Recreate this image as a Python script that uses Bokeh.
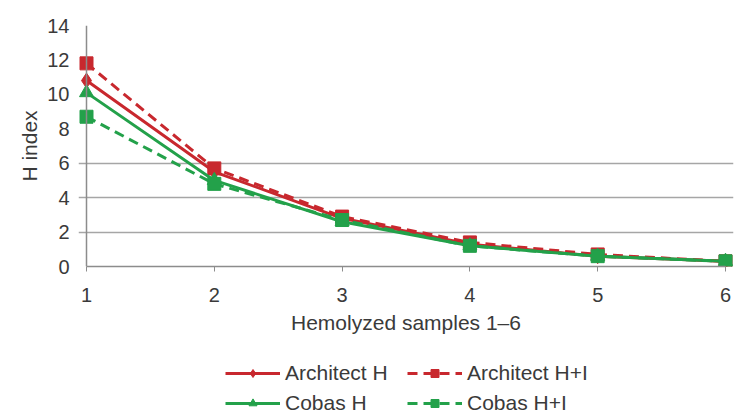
from bokeh.plotting import figure
from bokeh.models import Range1d, SingleIntervalTicker, Legend, LegendItem, Span
from bokeh.layouts import column
from bokeh.embed import file_html
from bokeh.resources import INLINE

samples = [1, 2, 3, 4, 5, 6]
architect_h = [10.8, 5.5, 2.8, 1.3, 0.6, 0.3]
architect_hi = [11.8, 5.7, 2.9, 1.4, 0.7, 0.3]
cobas_h = [10.1, 5.0, 2.6, 1.2, 0.6, 0.3]
cobas_hi = [8.7, 4.8, 2.7, 1.2, 0.6, 0.3]

RED = "#c8282e"
GREEN = "#23a14a"
FONT = "Liberation Sans"
TXT = "#3a3a3a"
AXIS = "#8c8c8c"

# ---------------- main chart ----------------
p = figure(width=738, height=345, output_backend="svg", toolbar_location=None,
           x_range=Range1d(1 - 8 / 127.8, 6 + 8 / 127.8), y_range=Range1d(0, 14),
           min_border_left=78, min_border_right=5, min_border_top=25, min_border_bottom=79)
p.outline_line_color = None
p.background_fill_color = "white"
p.border_fill_color = "white"

p.xgrid.grid_line_color = None
p.ygrid.grid_line_color = "#a6a6a6"
p.ygrid.grid_line_width = 1.5
p.ygrid.bounds = (1, 6)

p.yaxis.ticker = SingleIntervalTicker(interval=2)
p.xaxis.ticker = SingleIntervalTicker(interval=1)
for ax in (p.xaxis[0], p.yaxis[0]):
    ax.axis_line_color = AXIS
    ax.axis_line_width = 1.5
    ax.major_tick_line_color = AXIS
    ax.major_tick_in = 0
    ax.major_tick_out = 5
    ax.minor_tick_line_color = None
    ax.major_label_text_font = FONT
    ax.major_label_text_font_size = "20px"
    ax.major_label_text_color = TXT
    ax.axis_label_text_font = FONT
    ax.axis_label_text_font_size = "21px"
    ax.axis_label_text_font_style = "normal"
    ax.axis_label_text_color = TXT
p.xaxis.bounds = (1, 6)
p.yaxis.axis_line_color = None
p.yaxis.major_tick_out = 0
p.xaxis.axis_label = "Hemolyzed samples 1\u20136"
p.yaxis.axis_label = "H index"
p.xaxis.major_label_standoff = 16
p.xaxis.axis_label_standoff = 6
p.yaxis.major_label_standoff = 5
p.yaxis.axis_label_standoff = 3

# vertical axis line at the first sample
p.add_layout(Span(location=samples[0], dimension="height", line_color=AXIS, line_width=1.5))

def draw(fig):
    r1 = fig.line(samples, architect_h, line_color=RED, line_width=3)
    m1 = fig.scatter(samples, architect_h, marker="diamond", size=15, color=RED)
    r2 = fig.line(samples, architect_hi, line_color=RED, line_width=3, line_dash="10 6")
    m2 = fig.scatter(samples, architect_hi, marker="square", size=13, color=RED)
    r3 = fig.line(samples, cobas_h, line_color=GREEN, line_width=3)
    m3 = fig.scatter(samples, cobas_h, marker="triangle", size=14, color=GREEN)
    r4 = fig.line(samples, cobas_hi, line_color=GREEN, line_width=3, line_dash="10 6")
    m4 = fig.scatter(samples, cobas_hi, marker="square", size=13, color=GREEN)
    return (r1, m1), (r2, m2), (r3, m3), (r4, m4)

draw(p)

# ---------------- legend strip ----------------
q = figure(width=738, height=69, output_backend="svg", toolbar_location=None,
           x_range=Range1d(100, 101), y_range=Range1d(0, 1),
           min_border_left=0, min_border_right=0, min_border_top=0, min_border_bottom=0,
           x_axis_type=None, y_axis_type=None)
q.outline_line_color = None
q.xgrid.grid_line_color = None
q.ygrid.grid_line_color = None
a_h, a_hi, c_h, c_hi = draw(q)

common = dict(padding=0, margin=0, spacing=6, glyph_width=55, glyph_height=20,
              label_height=20, label_standoff=5, label_text_font=FONT,
              label_text_font_size="21px", label_text_color=TXT,
              border_line_color=None, background_fill_alpha=0)
leg1 = Legend(items=[LegendItem(label="Architect H", renderers=list(a_h)),
                     LegendItem(label="Cobas H", renderers=list(c_h))],
              location=(147, -1), **common)
leg2 = Legend(items=[LegendItem(label="Architect H+I", renderers=list(a_hi)),
                     LegendItem(label="Cobas H+I", renderers=list(c_hi))],
              location=(329, -1), **common)
q.add_layout(leg1, "center")
q.add_layout(leg2, "center")

layout = column(p, q, spacing=0)
open("out.html", "w").write(file_html(layout, INLINE))
